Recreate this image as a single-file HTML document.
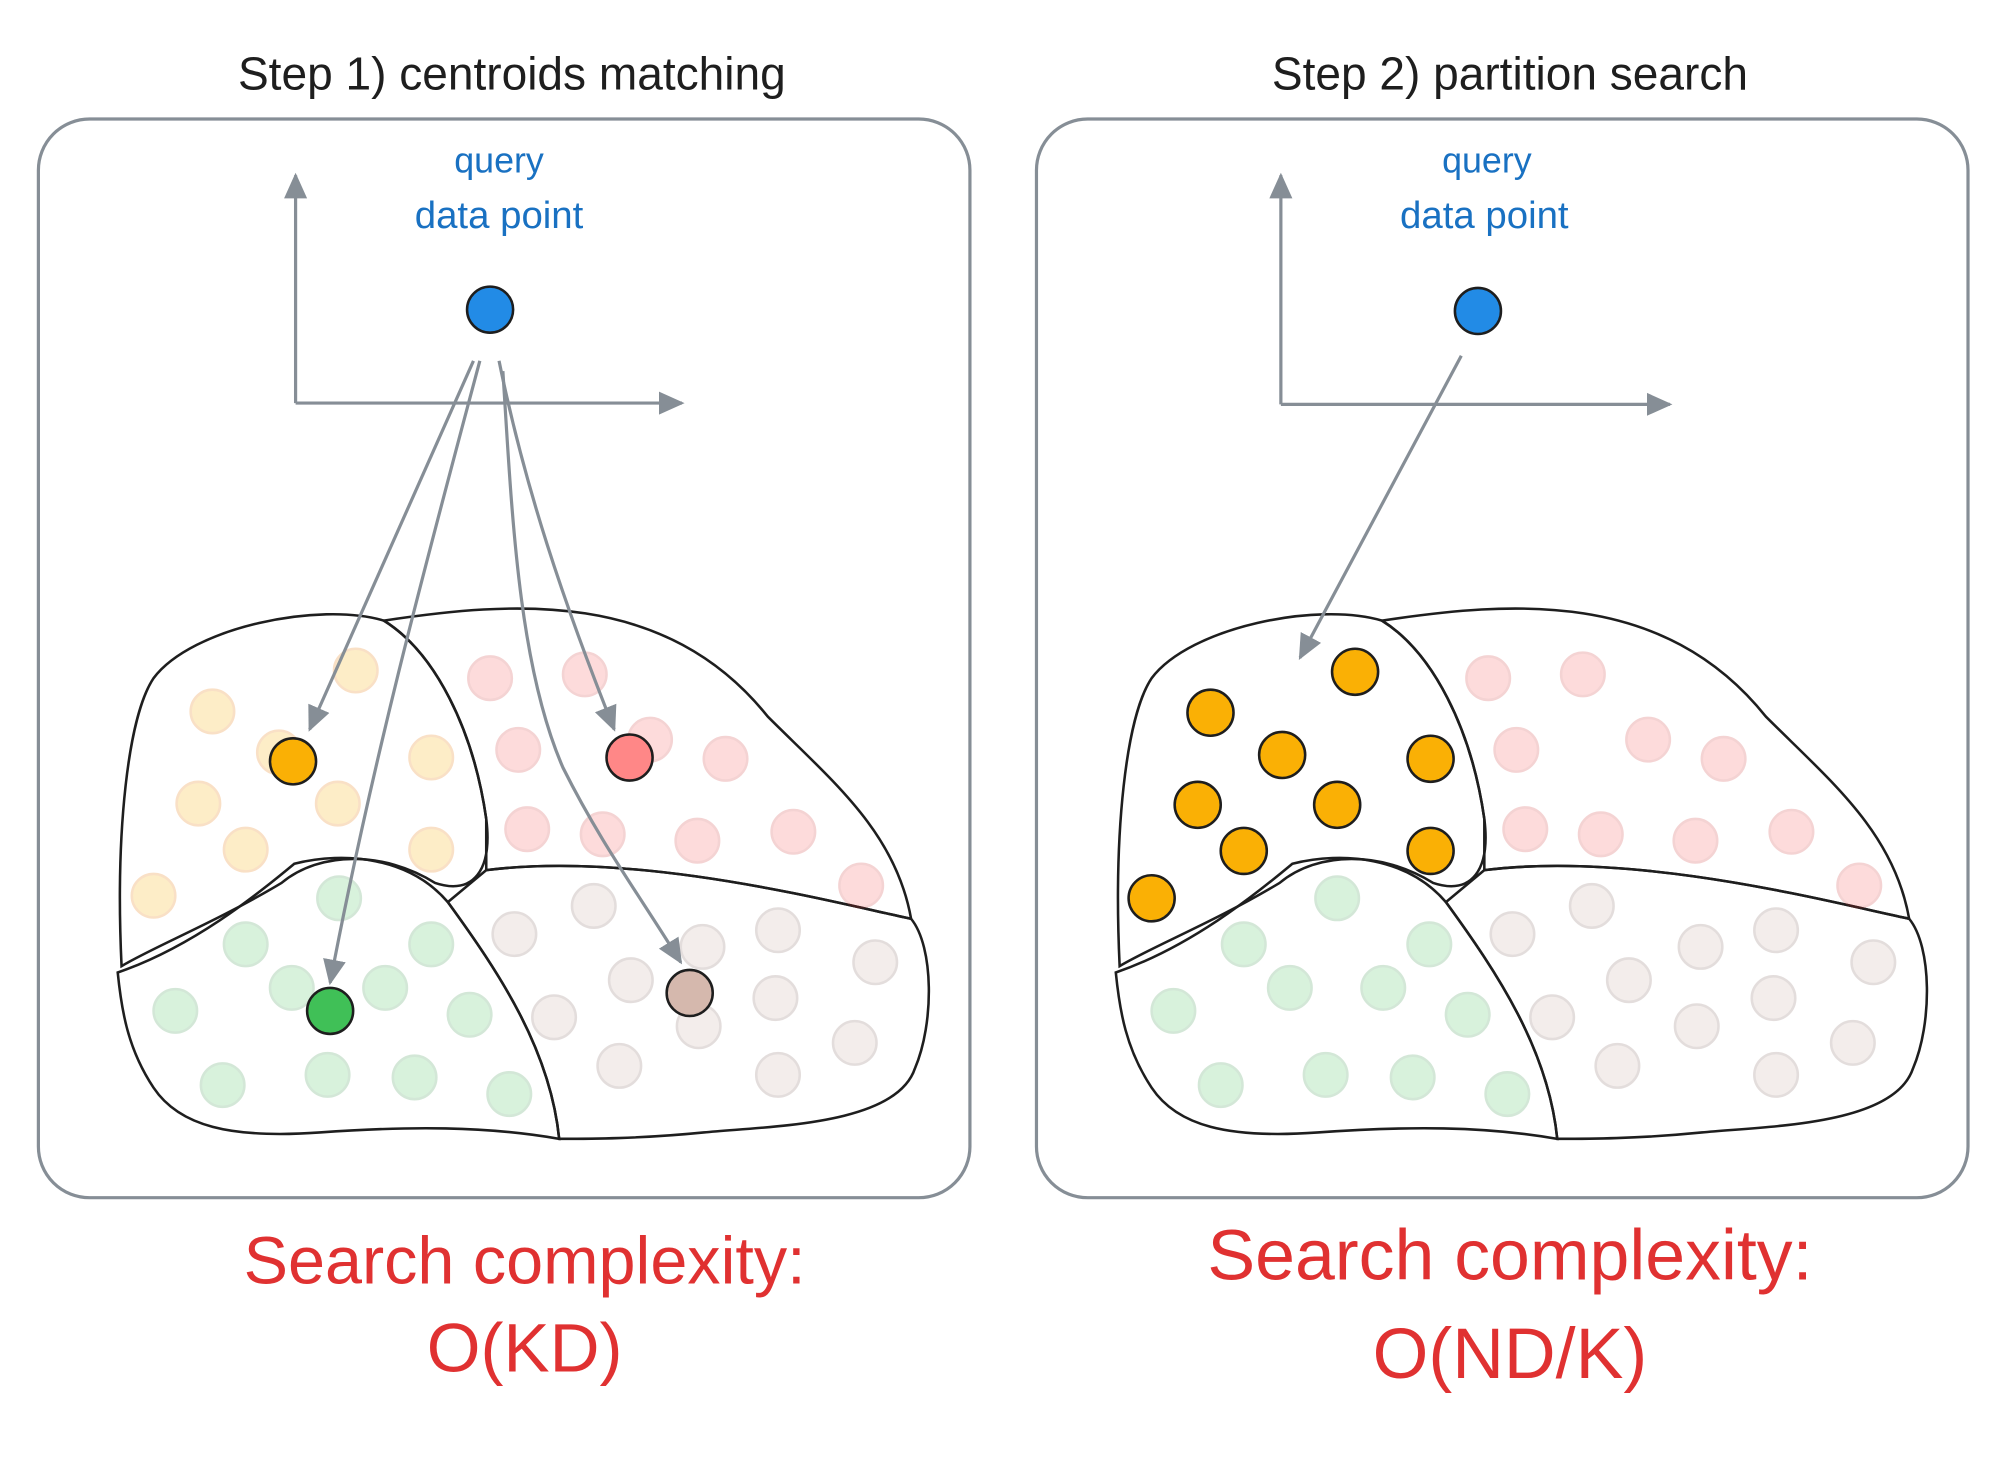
<!DOCTYPE html>
<html><head><meta charset="utf-8"><style>html,body{margin:0;padding:0;background:#fff}svg{display:block}</style></head>
<body>
<svg width="2000" height="1459" viewBox="0 0 1563 1140.2" xmlns="http://www.w3.org/2000/svg" font-family="Liberation Sans, sans-serif">
<defs>
<marker id="ah2" markerWidth="22" markerHeight="22" refX="18" refY="11" orient="auto" markerUnits="userSpaceOnUse" viewBox="0 0 22 22">
<path d="M0,2 L20,11 L0,20 Z" fill="#868e96"/></marker>
<g id="regions" fill="none" stroke="#1e1e1e" stroke-width="2">
<path d="M95,755 C90,650 100,560 120,530 C150,490 250,470 300,485 C340,510 370,570 380,640 C385,680 370,700 340,690 C300,665 250,665 220,690 C170,720 120,740 95,755 Z"/>
<path d="M300,485 C400,470 520,460 600,560 C650,610 700,650 712,718 C650,705 500,665 380,680 L380,640 C370,570 340,510 300,485 Z"/>
<path d="M92,760 C150,740 200,700 230,675 C270,665 320,670 350,705 C390,760 430,820 437,890 C380,880 320,880 250,885 C180,890 140,880 120,850 C100,820 95,790 92,760 Z"/>
<path d="M380,680 C500,665 650,705 712,718 C730,740 730,800 715,835 C700,880 600,880 550,885 C500,890 460,890 437,890 C430,820 390,760 350,705 L380,680 Z"/>
</g>
<g id="fadeR" fill="#fa5252" stroke="#c92a2a" stroke-width="2" opacity="0.2">
<circle cx="383" cy="530" r="17"/><circle cx="457" cy="527" r="17"/><circle cx="405" cy="586" r="17"/><circle cx="508" cy="578" r="17"/><circle cx="567" cy="593" r="17"/><circle cx="412" cy="648" r="17"/><circle cx="471" cy="652" r="17"/><circle cx="545" cy="657" r="17"/><circle cx="620" cy="650" r="17"/><circle cx="673" cy="692" r="17"/>
</g>
<g id="fadeG" fill="#40c057" stroke="#2b8a3e" stroke-width="2" opacity="0.2">
<circle cx="265" cy="702" r="17"/><circle cx="192" cy="738" r="17"/><circle cx="337" cy="738" r="17"/><circle cx="137" cy="790" r="17"/><circle cx="228" cy="772" r="17"/><circle cx="301" cy="772" r="17"/><circle cx="367" cy="793" r="17"/><circle cx="174" cy="848" r="17"/><circle cx="256" cy="840" r="17"/><circle cx="324" cy="842" r="17"/><circle cx="398" cy="855" r="17"/>
</g>
<g id="fadeB" fill="#c5a89f" stroke="#7a5c55" stroke-width="2" opacity="0.2">
<circle cx="402" cy="730" r="17"/><circle cx="464" cy="708" r="17"/><circle cx="549" cy="740" r="17"/><circle cx="608" cy="727" r="17"/><circle cx="684" cy="752" r="17"/><circle cx="433" cy="795" r="17"/><circle cx="493" cy="766" r="17"/><circle cx="546" cy="802" r="17"/><circle cx="606" cy="780" r="17"/><circle cx="668" cy="815" r="17"/><circle cx="484" cy="833" r="17"/><circle cx="608" cy="840" r="17"/>
</g>
</defs>

<text x="400" y="70" font-size="36" text-anchor="middle" fill="#1e1e1e">Step 1) centroids matching</text>
<text x="1180" y="70" font-size="36" text-anchor="middle" fill="#1e1e1e">Step 2) partition search</text>

<rect x="30" y="93" width="728" height="843" rx="40" fill="none" stroke="#868e96" stroke-width="2.5"/>
<rect x="810" y="93" width="728" height="843" rx="40" fill="none" stroke="#868e96" stroke-width="2.5"/>

<g stroke="#868e96" stroke-width="2.5" fill="none">
<line x1="231" y1="315" x2="231" y2="137" marker-end="url(#ah2)"/>
<line x1="231" y1="315" x2="533" y2="315" marker-end="url(#ah2)"/>
</g>
<text x="390" y="135" font-size="28" text-anchor="middle" fill="#1971c2">query</text>
<text x="390" y="178" font-size="30" text-anchor="middle" fill="#1971c2">data point</text>
<circle cx="383" cy="242" r="18" fill="#228be6" stroke="#1e1e1e" stroke-width="2"/>

<use href="#regions"/>
<g fill="#fab005" stroke="#e67700" stroke-width="2" opacity="0.22">
<circle cx="166" cy="556" r="17"/><circle cx="278" cy="524" r="17"/><circle cx="218" cy="588" r="17"/><circle cx="337" cy="592" r="17"/><circle cx="155" cy="628" r="17"/><circle cx="264" cy="628" r="17"/><circle cx="192" cy="664" r="17"/><circle cx="337" cy="664" r="17"/><circle cx="120" cy="700" r="17"/>
</g>
<use href="#fadeR"/><use href="#fadeG"/><use href="#fadeB"/>

<g stroke="#868e96" stroke-width="2.5" fill="none">
<path d="M370,282 C330,370 290,460 242,570" marker-end="url(#ah2)"/>
<path d="M375,282 C330,450 290,600 258,768" marker-end="url(#ah2)"/>
<path d="M390,282 C410,380 440,470 480,570" marker-end="url(#ah2)"/>
<path d="M393,290 C400,400 405,520 440,600 C470,660 500,700 532,752" marker-end="url(#ah2)"/>
</g>
<circle cx="229" cy="595" r="18" fill="#fab005" stroke="#1e1e1e" stroke-width="2"/>
<circle cx="492" cy="592" r="18" fill="#ff8787" stroke="#1e1e1e" stroke-width="2"/>
<circle cx="258" cy="790" r="18" fill="#40c057" stroke="#1e1e1e" stroke-width="2"/>
<circle cx="539" cy="776" r="18" fill="#d5b8ad" stroke="#1e1e1e" stroke-width="2"/>

<g stroke="#868e96" stroke-width="2.5" fill="none">
<line x1="1001" y1="316" x2="1001" y2="137" marker-end="url(#ah2)"/>
<line x1="1001" y1="316" x2="1305" y2="316" marker-end="url(#ah2)"/>
</g>
<text x="1162" y="135" font-size="28" text-anchor="middle" fill="#1971c2">query</text>
<text x="1160" y="178" font-size="30" text-anchor="middle" fill="#1971c2">data point</text>
<circle cx="1155" cy="243" r="18" fill="#228be6" stroke="#1e1e1e" stroke-width="2"/>

<g transform="translate(780,0)">
<use href="#regions"/><use href="#fadeR"/><use href="#fadeG"/><use href="#fadeB"/>
</g>
<line x1="1142" y1="278" x2="1016" y2="514" stroke="#868e96" stroke-width="2.5" marker-end="url(#ah2)"/>
<g fill="#fab005" stroke="#1e1e1e" stroke-width="2">
<circle cx="1059" cy="525" r="18"/><circle cx="946" cy="557" r="18"/><circle cx="1002" cy="590" r="18"/><circle cx="1118" cy="593" r="18"/><circle cx="936" cy="629" r="18"/><circle cx="1045" cy="629" r="18"/><circle cx="972" cy="665" r="18"/><circle cx="1118" cy="665" r="18"/><circle cx="900" cy="702" r="18"/>
</g>

<g fill="#e03131" text-anchor="middle">
<text x="410" y="1003" font-size="52">Search complexity:</text>
<text x="410" y="1072" font-size="54">O(KD)</text>
<text x="1180" y="1000" font-size="56">Search complexity:</text>
<text x="1180" y="1077" font-size="56">O(ND/K)</text>
</g>
</svg>
</body></html>
